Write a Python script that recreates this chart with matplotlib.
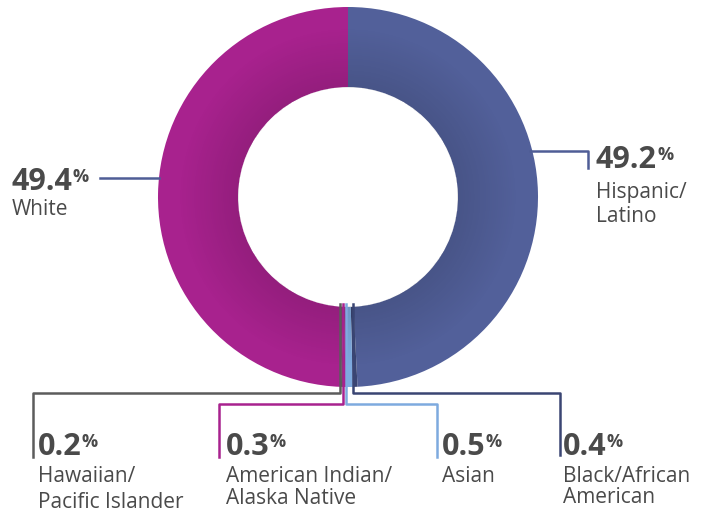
import numpy as np
import matplotlib.pyplot as plt

# data
labels = ['Hispanic/\nLatino', 'Black/African\nAmerican', 'Asian',
          'American Indian/\nAlaska Native', 'Hawaiian/\nPacific Islander', 'White']
values = [49.2, 0.4, 0.5, 0.3, 0.2, 49.4]
value_text = ['49.2', '0.4', '0.5', '0.3', '0.2', '49.4']
colors = ['#52609a', '#3a4573', '#7eaadf', '#a8228e', '#5c5c5c', '#a8228e']
line_colors = ['#4f5d96', '#3a4573', '#7eaadf', '#a8228e', '#5c5c5c', '#4f5d96']

plt.rcParams['font.family'] = ['Open Sans', 'DejaVu Sans']
txt_col = '#4a4a4a'

fig = plt.figure(figsize=(7.08, 5.14), dpi=100)
ax = fig.add_axes([0, 0, 1, 1])

cx, cy, R, r = 348, 197, 190, 110

# donut (y axis inverted -> start at -90 and go counterclock in data = clockwise on screen)
wedges, _ = ax.pie(values, colors=colors, startangle=-90, counterclock=True,
                   center=(cx, cy), radius=R, frame=True,
                   wedgeprops=dict(width=R - r, linewidth=0))

# soft inner shadow as one radial alpha image
n = 400
g = np.linspace(-R, R, n)
gx, gy = np.meshgrid(g, g)
d = np.hypot(gx, gy)
alpha = 0.12 * np.clip(1 - (d - r) / 60, 0, 1)
alpha[(d < r) | (d > R)] = 0
shade = np.zeros((n, n, 4))
shade[..., 3] = alpha
ax.imshow(shade, extent=(cx - R, cx + R, cy + R, cy - R), zorder=3,
          interpolation='bilinear', aspect='auto')

ax.set_xlim(0, 708)
ax.set_ylim(514, 0)  # pixel coords, y down
ax.axis('off')

# leader lines
lw = 1.8
ax.plot([530, 588, 588], [151, 151, 168], color=line_colors[0], lw=lw, zorder=4)
ax.plot([100, 159], [178, 178], color=line_colors[5], lw=lw, zorder=4)
ax.plot([353, 353, 560, 560], [304, 393, 393, 455], color=line_colors[1], lw=lw, zorder=4)
ax.plot([346, 346, 437, 437], [304, 404, 404, 457], color=line_colors[2], lw=lw, zorder=4)
ax.plot([343, 343, 219, 219], [304, 404, 404, 457], color=line_colors[3], lw=lw, zorder=4)
ax.plot([340, 340, 33, 33], [304, 393, 393, 457], color=line_colors[4], lw=lw, zorder=4)

# labels: (x, baseline of number, baseline of first label line, line spacing)
label_pos = [(596, 168, 198, 24), (563, 455, 482, 21), (442, 455, 482, 24),
             (226, 455, 482, 22), (38, 455, 482, 26), (12, 190, 215, 24)]

for i, (x, yn, yl, dy) in enumerate(label_pos):
    t = ax.text(x, yn, value_text[i], fontsize=22, fontweight='bold', color=txt_col,
                va='baseline', ha='left', zorder=5)
    ax.annotate('%', xy=(1, 1), xycoords=t, xytext=(0, -1), textcoords='offset points',
                fontsize=13, fontweight='bold', color=txt_col, va='top', ha='left')
    for j, line in enumerate(labels[i].split('\n')):
        ax.text(x, yl + j * dy, line, fontsize=15, color=txt_col,
                va='baseline', ha='left', zorder=5)

plt.savefig('out.png', dpi=100)
